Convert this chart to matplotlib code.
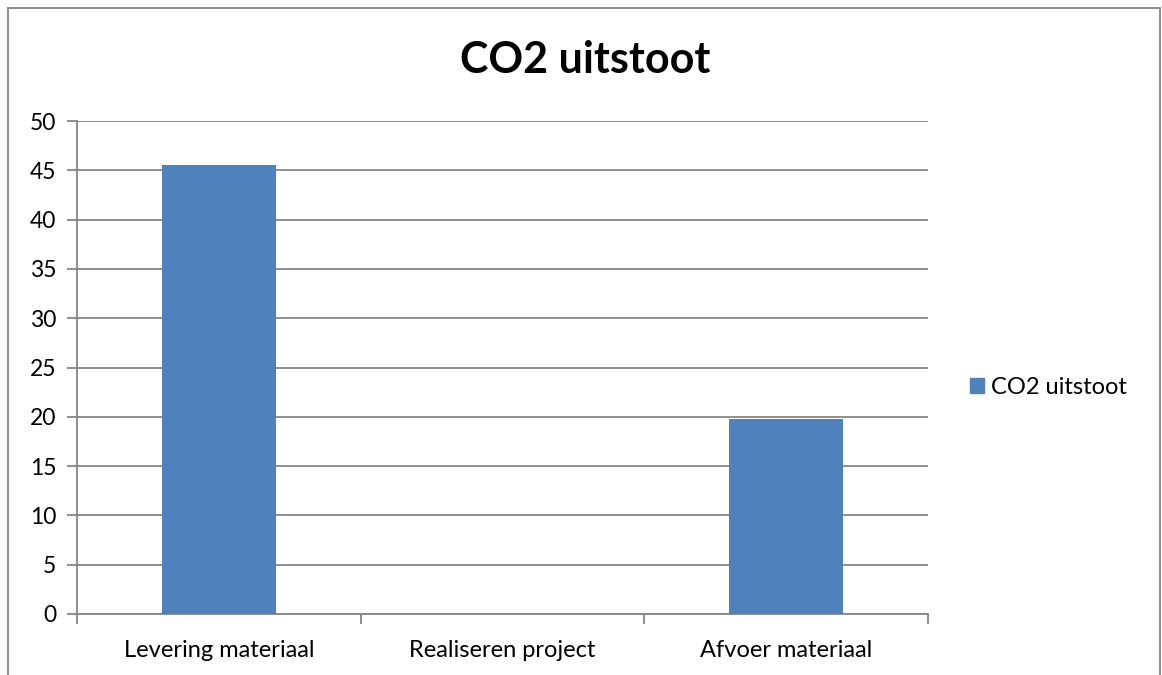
import matplotlib.pyplot as plt
from matplotlib.patches import Rectangle, Patch

categories = ['Levering materiaal', 'Realiseren project', 'Afvoer materiaal']
values = [45.5, 0, 19.8]
series_name = 'CO2 uitstoot'
yticks = [0, 5, 10, 15, 20, 25, 30, 35, 40, 45, 50]

plt.rcParams['font.family'] = ['Lato', 'DejaVu Sans']

fig = plt.figure(figsize=(11.62, 6.75), dpi=100)
ax = fig.add_axes([77/1162, 1-614/675, (928-77)/1162, (614-121)/675])

x = list(range(len(categories)))
ax.bar(x, values, width=0.4, color='#4F81BD', zorder=3, label=series_name)

ax.set_xlim(-0.5, len(categories)-0.5)
ax.set_ylim(0, 50)
ax.set_yticks(yticks)
ax.yaxis.grid(True, color='#868686', linewidth=1.3, zorder=0)

ax.set_xticks(x)
ax.set_xticklabels(categories)
ax.set_xticks([-0.5, 0.5, 1.5, 2.5], minor=True)
ax.tick_params(axis='x', which='major', length=0, labelsize=17, pad=19)
ax.tick_params(axis='x', which='minor', length=7, color='#868686', width=1.3)
ax.tick_params(axis='y', length=7, color='#868686', width=1.3, labelsize=16.5, pad=8)

for s in ['top', 'right']:
    ax.spines[s].set_visible(False)
for s in ['left', 'bottom']:
    ax.spines[s].set_color('#868686')
    ax.spines[s].set_linewidth(1.3)

fig.text(585/1162, 1-60/675, 'CO2 uitstoot', ha='center', va='center',
         fontsize=31, fontweight='bold')

ax.legend(handles=[Patch(color='#4F81BD', label=series_name)],
          loc='center left', bbox_to_anchor=(1.024, 0.46), frameon=False,
          fontsize=17, handlelength=0.6, handleheight=0.6, handletextpad=0.3)

fig.patches.append(Rectangle((8/1162, -0.1), (1160-8)/1162, 1.1-8/675,
                             transform=fig.transFigure, fill=False,
                             edgecolor='#868686', linewidth=1.3))

fig.savefig('out.png', dpi=100)
